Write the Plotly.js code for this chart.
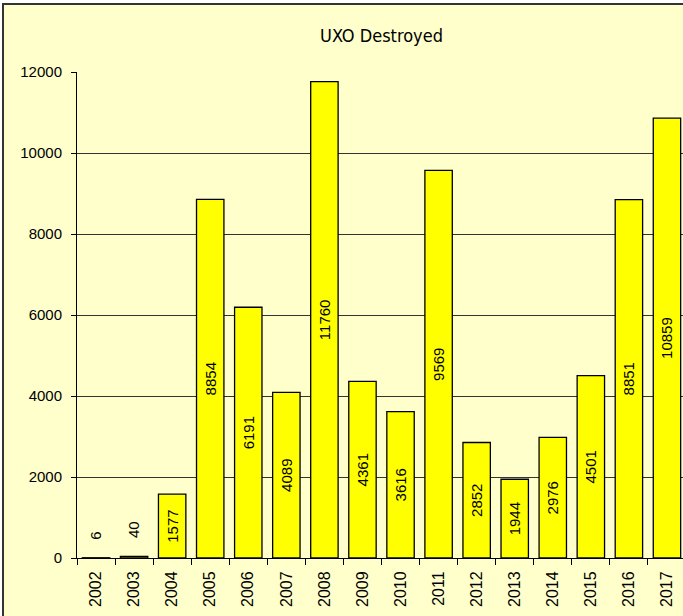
<!DOCTYPE html>
<html>
<head>
<meta charset="utf-8">
<script src="https://cdn.plot.ly/plotly-3.0.1.min.js"></script>
<style>
html,body{margin:0;padding:0;background:#fff;overflow:hidden;width:683px;height:616px;}
#wrap{position:absolute;left:2px;top:3px;border:2px solid #333;width:700px;height:630px;background:#FFFFCC;}
#chart{position:absolute;left:0;top:0;}
</style>
</head>
<body>
<div id="wrap"><div id="chart"></div></div>
<script>
const years = ['2002','2003','2004','2005','2006','2007','2008','2009','2010','2011','2012','2013','2014','2015','2016','2017'];
const destroyed = [6, 40, 1577, 8854, 6191, 4089, 11760, 4361, 3616, 9569, 2852, 1944, 2976, 4501, 8851, 10859];
const yTicks = [0, 2000, 4000, 6000, 8000, 10000, 12000];
const chartTitle = 'UXO Destroyed';

const labelFont = {family: 'Liberation Sans, Arial, sans-serif', size: 15, color: '#000'};
const xTickFont = {family: 'Liberation Sans, Arial, sans-serif', size: 16, color: '#000'};
const smallLimit = 500;

const trace = {
  type: 'bar',
  x: years,
  y: destroyed,
  text: destroyed.map(v => v < smallLimit ? '' : String(v)),
  textposition: 'inside',
  insidetextanchor: 'middle',
  textangle: -90,
  constraintext: 'none',
  textfont: labelFont,
  marker: {color: '#FFFF00', line: {color: '#000', width: 1.3}},
  hoverinfo: 'none'
};

// labels for bars too short to hold their value: placed above the bar (category index on x)
const annotations = [];
destroyed.forEach((v, i) => {
  if (v < smallLimit) {
    annotations.push({
      x: i, y: v, xref: 'x', yref: 'y',
      text: String(v), showarrow: false,
      textangle: -90, yanchor: 'bottom', xanchor: 'center', yshift: 16,
      font: labelFont
    });
  }
});

const layout = {
  width: 692,
  height: 625,
  margin: {l: 73, r: 10, t: 67, b: 72},
  paper_bgcolor: '#FFFFCC',
  plot_bgcolor: '#FFFFCC',
  bargap: 0.28,
  showlegend: false,
  annotations: annotations,
  title: {
    text: chartTitle,
    x: 0.5, xref: 'paper', xanchor: 'center',
    y: 0.9504, yref: 'container', yanchor: 'middle',
    font: {family: 'DejaVu Sans Condensed, sans-serif', size: 18, color: '#000'}
  },
  xaxis: {
    type: 'category',
    range: [-0.5, years.length - 0.5],
    showline: true, linecolor: '#000', linewidth: 1,
    ticks: 'outside', tickson: 'boundaries', ticklen: 6, tickcolor: '#000',
    tickangle: -90,
    ticklabelstandoff: 6,
    tickfont: xTickFont,
    showgrid: false, zeroline: false
  },
  yaxis: {
    range: [0, 12000],
    tickvals: yTicks,
    ticktext: yTicks.map(String),
    showline: true, linecolor: '#000', linewidth: 1,
    ticks: 'outside', ticklen: 5, tickcolor: '#000',
    ticklabelstandoff: 6,
    tickfont: labelFont,
    showgrid: true, gridcolor: '#333', gridwidth: 1,
    zeroline: false
  }
};

Plotly.newPlot('chart', [trace], layout, {staticPlot: true, displayModeBar: false});
</script>
</body>
</html>
